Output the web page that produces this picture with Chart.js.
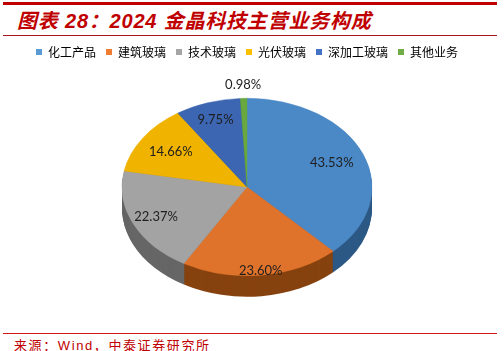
<!DOCTYPE html>
<html>
<head>
<meta charset="utf-8">
<script src="https://cdn.jsdelivr.net/npm/chart.js@4.4.1/dist/chart.umd.min.js"></script>
<style>
body{margin:0;background:#fff;}
#page{position:relative;width:504px;height:351px;overflow:hidden;font-family:"Liberation Sans","Noto Sans CJK SC",sans-serif;}
.bar{position:absolute;left:3px;width:494px;background:#c00000;}
#title{position:absolute;left:17px;top:5px;font-size:20px;font-weight:bold;font-style:italic;color:#c00000;letter-spacing:0.8px;white-space:nowrap;}
#source{position:absolute;left:14px;top:335px;font-size:13px;color:#c00000;letter-spacing:1.6px;white-space:nowrap;}
#wrap{position:absolute;left:0;top:36px;width:504px;height:270px;}
</style>
</head>
<body>
<div id="page">
<div class="bar" style="top:2px;height:3px;"></div>
<div id="title">图表 28：2024 金晶科技主营业务构成</div>
<div class="bar" style="top:35px;height:1px;background:#a8141c;"></div>
<div id="wrap"><canvas id="pieChart"></canvas></div>
<div class="bar" style="top:333px;height:1px;background:#d01818;"></div>
<div id="source">来源：Wind，中泰证券研究所</div>
</div>

<script>

// -------------------------------------
// DATA
// -------------------------------------

const categories = ["化工产品", "建筑玻璃", "技术玻璃", "光伏玻璃", "深加工玻璃", "其他业务"];
const shares = [43.53, 23.60, 22.37, 14.66, 9.75, 0.98];

// -------------------------------------
// STYLE
// -------------------------------------

const topColors = ["#4b88c6", "#e0732b", "#a3a3a3", "#efb300", "#3c66b2", "#68a83e"];
const sideColors = ["#2c5885", "#86420f", "#666666", "#9a7400", "#233f70", "#3f6a24"];
const legendColors = ["#5b9bd5", "#ed7d31", "#a5a5a5", "#ffc000", "#4472c4", "#70ad47"];
const labelRadius = [0.73, 0.95, 0.80, 0.73, 0.80, 1.15];

const tilt = 0.71;
const depth = 21;


// -------------------------------------
// 3D PIE PLUGIN
// -------------------------------------

const pie3d = {

id: "pie3d",

beforeDatasetsDraw(chart){

const ctx = chart.ctx;
const arcs = chart.getDatasetMeta(0).data;
const cy = arcs[0].y;

ctx.save();
ctx.translate(0, cy);
ctx.scale(1, tilt);
ctx.translate(0, -cy);

// side wall: stacked copies of each slice pushed down
for(let d = depth; d > 0; d--){
arcs.forEach((arc, i) => {
ctx.beginPath();
ctx.moveTo(arc.x, arc.y + d / tilt);
ctx.arc(arc.x, arc.y + d / tilt, arc.outerRadius, arc.startAngle, arc.endAngle);
ctx.closePath();
ctx.fillStyle = sideColors[i];
ctx.fill();
});
}

},

afterDatasetsDraw(chart){

const ctx = chart.ctx;
ctx.restore();

const arcs = chart.getDatasetMeta(0).data;

ctx.save();
ctx.font = "13px Lato, 'Open Sans', sans-serif";
ctx.fillStyle = "#1e1e1e";
ctx.textAlign = "center";
ctx.textBaseline = "middle";

arcs.forEach((arc, i) => {
const mid = (arc.startAngle + arc.endAngle) / 2;
const r = arc.outerRadius * labelRadius[i];
const x = arc.x + Math.cos(mid) * r;
const y = arc.y + Math.sin(mid) * r * tilt;
ctx.fillText(shares[i].toFixed(2) + "%", x, y);
});

ctx.restore();

}

};


// -------------------------------------
// CHART
// -------------------------------------

const ctx = document.getElementById("pieChart").getContext("2d");

new Chart(ctx, {

type: "pie",

data: {
labels: categories,
datasets: [{
data: shares,
backgroundColor: topColors,
borderColor: topColors,
borderWidth: 0.5,
clip: false
}]
},

options: {
responsive: true,
maintainAspectRatio: false,
animation: false,
radius: 125,
layout: {
padding: { right: 10 }
},
plugins: {
legend: {
position: "top",
labels: {
boxWidth: 6,
boxHeight: 6,
padding: 10,
color: "#666666",
font: { size: 12, family: "'Noto Sans CJK SC'" },
generateLabels(chart){
return categories.map((c, i) => ({
text: c,
fillStyle: legendColors[i],
strokeStyle: legendColors[i],
lineWidth: 0,
index: i
}));
}
}
},
tooltip: { enabled: false }
}

},

plugins: [pie3d]

});

</script>
</body>
</html>
